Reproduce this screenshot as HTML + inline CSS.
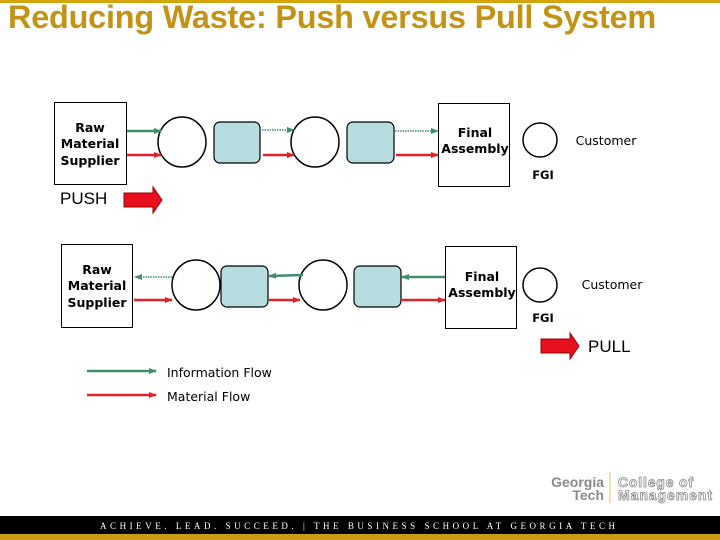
<!DOCTYPE html>
<html><head><style>
body{margin:0;width:720px;height:540px;overflow:hidden;background:#fff;position:relative;font-family:"Liberation Sans",sans-serif}
.t{position:absolute;left:8px;top:-1px;font-size:32.4px;font-weight:bold;color:#c39316;white-space:nowrap;letter-spacing:-0.2px}
</style></head><body>
<div style="position:absolute;left:0;top:0;width:720px;height:3px;background:#d4a50c"></div>
<div class="t">Reducing Waste: Push versus Pull System</div>
<svg width="720" height="540" style="position:absolute;left:0;top:0" font-family="DejaVu Sans, sans-serif">
<defs>
<marker id="g" markerWidth="8" markerHeight="8" refX="7" refY="4" orient="auto" markerUnits="userSpaceOnUse"><path d="M0,1 L8,4 L0,7z" fill="#3f8f6a"/></marker>
<marker id="r" markerWidth="8" markerHeight="8" refX="7" refY="4" orient="auto" markerUnits="userSpaceOnUse"><path d="M0,1 L8,4 L0,7z" fill="#e0202a"/></marker>
</defs>
<g stroke="#000" stroke-width="1" fill="#fff">
<rect x="54.5" y="102.5" width="72" height="82"/>
<rect x="438.5" y="103.5" width="71" height="83"/>
<rect x="61.5" y="244.5" width="71" height="83"/>
<rect x="445.5" y="246.5" width="71" height="82"/>
</g>
<g stroke="#000" stroke-width="1.5" fill="#fff">
<ellipse cx="182" cy="142" rx="24" ry="25"/><ellipse cx="315" cy="142" rx="24" ry="25"/>
<ellipse cx="196" cy="285" rx="24" ry="25"/><ellipse cx="323" cy="285" rx="24" ry="25"/>
<circle cx="540" cy="140" r="17"/><circle cx="540" cy="285" r="17"/>
</g>
<g stroke="#000" stroke-width="1.2" fill="#b7dde0">
<rect x="214" y="122" width="46" height="41" rx="6"/><rect x="347" y="122" width="47" height="41" rx="6"/>
<rect x="221" y="266" width="47" height="41" rx="6"/><rect x="354" y="266" width="47" height="41" rx="6"/>
</g>
<g stroke-width="2.5" fill="none">
<line x1="127" y1="131" x2="161" y2="131" stroke="#3f8f6a" marker-end="url(#g)"/>
<line x1="127" y1="155" x2="161" y2="155" stroke="#e0202a" marker-end="url(#r)"/>
<line x1="262" y1="130" x2="294" y2="130" stroke="#3f8f6a" stroke-width="1.5" stroke-dasharray="1.5 1" marker-end="url(#g)"/>
<line x1="263" y1="155" x2="294" y2="155" stroke="#e0202a" marker-end="url(#r)"/>
<line x1="395" y1="131" x2="438" y2="131" stroke="#3f8f6a" stroke-width="1.5" stroke-dasharray="1.5 1" marker-end="url(#g)"/>
<line x1="396" y1="155" x2="438" y2="155" stroke="#e0202a" marker-end="url(#r)"/>
<line x1="172" y1="277" x2="135" y2="277" stroke="#3f8f6a" stroke-width="1.5" stroke-dasharray="1.5 1" marker-end="url(#g)"/>
<line x1="134" y1="300" x2="172" y2="300" stroke="#e0202a" marker-end="url(#r)"/>
<line x1="303" y1="275" x2="269" y2="276" stroke="#3f8f6a" marker-end="url(#g)"/>
<line x1="269" y1="300" x2="300" y2="300" stroke="#e0202a" marker-end="url(#r)"/>
<line x1="445" y1="277" x2="402" y2="277" stroke="#3f8f6a" marker-end="url(#g)"/>
<line x1="402" y1="300" x2="445" y2="300" stroke="#e0202a" marker-end="url(#r)"/>
<line x1="87" y1="371" x2="156" y2="371" stroke="#3f8f6a" marker-end="url(#g)"/>
<line x1="87" y1="395" x2="156" y2="395" stroke="#e0202a" marker-end="url(#r)"/>
</g>
<path d="M124,193 h29 v-6 l9,13 l-9,13 v-6 h-29z" fill="#e8101e" stroke="#900" stroke-width="1"/>
<path d="M541,339 h29 v-6 l9,13 l-9,13 v-6 h-29z" fill="#e8101e" stroke="#900" stroke-width="1"/>
<g font-size="12.5" font-weight="bold" text-anchor="middle" fill="#000">
<text x="90" y="132">Raw</text><text x="90" y="148">Material</text><text x="90" y="165">Supplier</text>
<text x="97" y="274">Raw</text><text x="97" y="290">Material</text><text x="97" y="307">Supplier</text>
<text x="475" y="137">Final</text><text x="475" y="153">Assembly</text>
<text x="482" y="281">Final</text><text x="482" y="297">Assembly</text>
<text x="606" y="145" font-weight="normal">Customer</text>
<text x="612" y="289" font-weight="normal">Customer</text>
<text x="543" y="179" font-size="11.5">FGI</text>
<text x="543" y="322" font-size="11.5">FGI</text>
</g>
<text x="60" y="204" font-family="Liberation Sans, sans-serif" font-size="17">PUSH</text>
<text x="588" y="352" font-family="Liberation Sans, sans-serif" font-size="17">PULL</text>
<text x="167" y="377" font-size="12.5">Information Flow</text>
<text x="167" y="401" font-size="12.5">Material Flow</text>
<g font-family="Liberation Sans, sans-serif" font-weight="bold" font-size="14">
<text x="604" y="487" text-anchor="end" fill="#8a8a8a">Georgia</text>
<text x="604" y="500" text-anchor="end" fill="#8a8a8a">Tech</text>
<text x="618" y="487" fill="#fff" stroke="#8a8a8a" stroke-width="0.8" textLength="75">College of</text>
<text x="618" y="500" fill="#fff" stroke="#8a8a8a" stroke-width="0.8" textLength="94">Management</text>
</g>
<line x1="610" y1="472" x2="610" y2="503" stroke="#e8d89a" stroke-width="1.5"/>
<rect x="0" y="516" width="720" height="18" fill="#000"/>
<rect x="0" y="534" width="720" height="6" fill="#c89d12"/>
<text x="100" y="529" fill="#fff" font-size="9" textLength="515" font-family="Liberation Serif, serif">ACHIEVE. LEAD. SUCCEED.  |  THE BUSINESS SCHOOL  AT GEORGIA TECH</text>
</svg>
</body></html>
